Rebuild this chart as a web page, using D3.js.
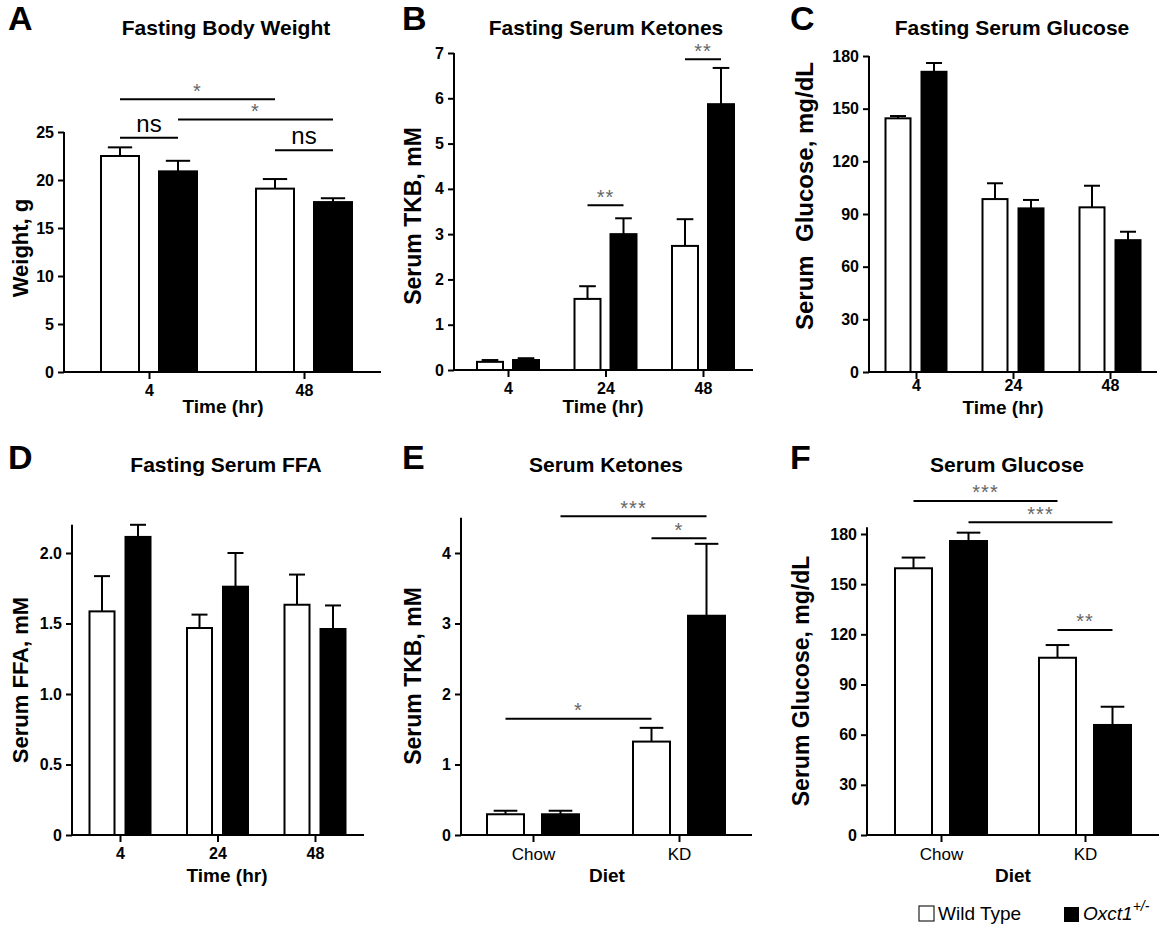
<!DOCTYPE html>
<html lang="en">
<head>
<meta charset="UTF-8">
<title>Oxct1 fasting / ketogenic diet panels</title>
<script src="https://d3js.org/d3.v7.min.js" charset="utf-8"></script>
<style>
  body { margin: 0; background: #fff; }
  text { font-family: "Liberation Sans", Arial, sans-serif; fill: #000; }
  .tick line, .axisline { stroke: #000; stroke-width: 2; }
  .ytick text { font-size: 16px; font-weight: bold; }
  .xtick text { font-size: 16px; font-weight: bold; }
  .xtick.diet text { font-size: 17px; font-weight: normal; }
</style>
</head>
<body>
<div id="chart"></div>
<script>

// ---- data (mean, and SEM shown as upper error bar) ----
var time2 = ["4", "48"];
var time3 = ["4", "24", "48"];
var diets = ["Chow", "KD"];

// A: fasting body weight, g
var weightWT = [22.5, 19.1], weightWTsem = [0.9, 1.0];
var weightKO = [20.9, 17.7], weightKOsem = [1.1, 0.4];

// B: fasting serum ketones, mM
var ketWT = [0.18, 1.57, 2.74], ketWTsem = [0.04, 0.28, 0.59];
var ketKO = [0.22, 3.0, 5.87],  ketKOsem = [0.04, 0.35, 0.80];

// C: fasting serum glucose, mg/dL
var gluWT = [144.5, 98.5, 93.8], gluWTsem = [1.3, 9.0, 12.3];
var gluKO = [171, 93.2, 75.1],   gluKOsem = [5.0, 4.8, 4.8];

// D: fasting serum FFA, mM
var ffaWT = [1.586, 1.468, 1.633], ffaWTsem = [0.25, 0.095, 0.214];
var ffaKO = [2.114, 1.761, 1.461], ffaKOsem = [0.086, 0.239, 0.167];

// E: serum ketones by diet, mM
var dietKetWT = [0.294, 1.325], dietKetWTsem = [0.05, 0.195];
var dietKetKO = [0.294, 3.11],  dietKetKOsem = [0.05, 1.02];

// F: serum glucose by diet, mg/dL
var dietGluWT = [159.5, 106], dietGluWTsem = [6.4, 7.6];
var dietGluKO = [175.8, 65.8], dietGluKOsem = [5.0, 10.9];

// significance brackets: [group, series] -> [group, series], height in data units
var sigA = [
  {from: [0, 0], to: [1, 0], at: 28.4, label: "*"},
  {from: [0, 1], to: [1, 1], at: 26.3, label: "*"},
  {from: [0, 0], to: [0, 1], at: 24.4, label: "ns"},
  {from: [1, 0], to: [1, 1], at: 23.1, label: "ns"}
];
var sigB = [
  {from: [1, 0], to: [1, 1], at: 3.64, label: "**"},
  {from: [2, 0], to: [2, 1], at: 6.86, label: "**"}
];
var sigE = [
  {from: [0, 1], to: [1, 1], at: 4.52, label: "***"},
  {from: [1, 0], to: [1, 1], at: 4.21, label: "*"},
  {from: [0, 0], to: [1, 0], at: 1.65, label: "*"}
];
var sigF = [
  {from: [0, 0], to: [1, 0], at: 199.8, label: "***"},
  {from: [0, 1], to: [1, 1], at: 187, label: "***"},
  {from: [1, 0], to: [1, 1], at: 122.6, label: "**"}
];

var width = 1167, height = 929;

var svg = d3.select("#chart").append("svg")
  .attr("width", width)
  .attr("height", height);

var panels = [
  {letter: "A", title: "Fasting Body Weight", ylab: "Weight, g", xlab: "Time (hr)", cats: time2,
   wt: weightWT, wtSem: weightWTsem, ko: weightKO, koSem: weightKOsem, sig: sigA,
   ticks: [0, 5, 10, 15, 20, 25], tickMax: 25, yTop: 25,
   x0: 64, x1: 381, c0: 149, cN: 304, base: 372, tickMaxY: 132, bw: 38, off: 29, pad: 6,
   lx: 8, ly: 30, tx: 226, ty: 35, ylx: 28, yly: 248, ysz: 22, xlx: 223, xly: 413},
  {letter: "B", title: "Fasting Serum Ketones", ylab: "Serum TKB, mM", xlab: "Time (hr)", cats: time3,
   wt: ketWT, wtSem: ketWTsem, ko: ketKO, koSem: ketKOsem, sig: sigB,
   ticks: d3.range(0, 8), tickMax: 7, yTop: 7,
   x0: 454, x1: 753, c0: 508, cN: 703, base: 370, tickMaxY: 53, bw: 26, off: 18, pad: 6,
   lx: 402, ly: 30, tx: 606, ty: 35, ylx: 421, yly: 216, ysz: 23, xlx: 603, xly: 413},
  {letter: "C", title: "Fasting Serum Glucose", ylab: "Serum  Glucose, mg/dL", xlab: "Time (hr)", cats: time3,
   wt: gluWT, wtSem: gluWTsem, ko: gluKO, koSem: gluKOsem, sig: [],
   ticks: d3.range(0, 181, 30), tickMax: 180, yTop: 180,
   x0: 869, x1: 1157, c0: 916, cN: 1110, base: 372, tickMaxY: 56, bw: 25, off: 18, pad: 1,
   lx: 790, ly: 30, tx: 1012, ty: 35, ylx: 813, yly: 196, ysz: 24, xlx: 1003, xly: 414},
  {letter: "D", title: "Fasting Serum FFA", ylab: "Serum FFA, mM", xlab: "Time (hr)", cats: time3,
   wt: ffaWT, wtSem: ffaWTsem, ko: ffaKO, koSem: ffaKOsem, sig: [],
   ticks: [0, 0.5, 1, 1.5, 2], tickMax: 2, yTop: 2.2, fmt: function(d) { return d === 0 ? "0" : d3.format(".1f")(d); },
   x0: 72, x1: 364, c0: 120, cN: 315, base: 835, tickMaxY: 553, bw: 25, off: 18, pad: 6,
   lx: 8, ly: 469, tx: 226, ty: 472, ylx: 28, yly: 680, ysz: 22, xlx: 227, xly: 882},
  {letter: "E", title: "Serum Ketones", ylab: "Serum TKB, mM", xlab: "Diet", cats: diets, diet: true,
   wt: dietKetWT, wtSem: dietKetWTsem, ko: dietKetKO, koSem: dietKetKOsem, sig: sigE,
   ticks: d3.range(0, 5), tickMax: 4, yTop: 4.5,
   x0: 461, x1: 752, c0: 533, cN: 679, base: 835, tickMaxY: 553, bw: 37, off: 27.5, pad: 6,
   lx: 402, ly: 469, tx: 606, ty: 472, ylx: 421, yly: 676, ysz: 23, xlx: 607, xly: 882},
  {letter: "F", title: "Serum Glucose", ylab: "Serum Glucose, mg/dL", xlab: "Diet", cats: diets, diet: true,
   wt: dietGluWT, wtSem: dietGluWTsem, ko: dietGluKO, koSem: dietGluKOsem, sig: sigF,
   ticks: d3.range(0, 181, 30), tickMax: 180, yTop: 184,
   x0: 867, x1: 1159, c0: 941, cN: 1085, base: 835, tickMaxY: 534, bw: 37, off: 27.5, pad: 6,
   lx: 790, ly: 469, tx: 1007, ty: 472, ylx: 809, yly: 681, ysz: 23, xlx: 1013, xly: 882}
];

panels.forEach(drawPanel);

function drawPanel(p) {
  var g = svg.append("g");

  var x = d3.scalePoint().domain(p.cats).range([p.c0, p.cN]);
  var y = d3.scaleLinear().domain([0, p.tickMax]).range([p.base, p.tickMaxY]);

  // bar centre for [group index, series index]
  var cx = function(gi, si) { return x(p.cats[gi]) + (si === 0 ? -p.off : p.off); };

  var rows = [];
  p.cats.forEach(function(c, i) {
    rows.push({g: i, s: 0, v: p.wt[i], e: p.wtSem[i]});
    rows.push({g: i, s: 1, v: p.ko[i], e: p.koSem[i]});
  });

  // error bars (upper only)
  g.selectAll(".err").data(rows).join("line")
    .attr("x1", d => cx(d.g, d.s)).attr("x2", d => cx(d.g, d.s))
    .attr("y1", d => y(d.v)).attr("y2", d => y(d.v + d.e))
    .attr("stroke", "#000").attr("stroke-width", 2);
  g.selectAll(".cap").data(rows).join("line")
    .attr("x1", d => cx(d.g, d.s) - p.bw * 0.32).attr("x2", d => cx(d.g, d.s) + p.bw * 0.32)
    .attr("y1", d => y(d.v + d.e)).attr("y2", d => y(d.v + d.e))
    .attr("stroke", "#000").attr("stroke-width", 2);

  // bars
  g.selectAll(".bar").data(rows).join("rect")
    .attr("x", d => cx(d.g, d.s) - p.bw / 2)
    .attr("y", d => y(d.v))
    .attr("width", p.bw)
    .attr("height", d => y(0) - y(d.v))
    .attr("fill", d => d.s === 0 ? "#fff" : "#000")
    .attr("stroke", "#000").attr("stroke-width", 2);

  // y axis
  var yAxis = g.append("g").attr("class", "ytick")
    .attr("transform", "translate(" + p.x0 + ",0)")
    .call(d3.axisLeft(y).tickValues(p.ticks).tickSize(6).tickPadding(4)
      .tickFormat(p.fmt || d3.format("d")));
  yAxis.select(".domain").remove();
  g.append("line").attr("class", "axisline")
    .attr("x1", p.x0).attr("x2", p.x0)
    .attr("y1", y(0) + 1).attr("y2", y(p.yTop));

  // x axis
  var xAxis = g.append("g").attr("class", "xtick" + (p.diet ? " diet" : ""))
    .attr("transform", "translate(0," + p.base + ")")
    .call(d3.axisBottom(x).tickSize(7).tickPadding(p.pad));
  xAxis.select(".domain").remove();
  g.append("line").attr("class", "axisline")
    .attr("x1", p.x0 - 1).attr("x2", p.x1)
    .attr("y1", y(0)).attr("y2", y(0));

  // significance brackets
  p.sig.forEach(function(s) {
    var xa = cx(s.from[0], s.from[1]), xb = cx(s.to[0], s.to[1]);
    g.append("line")
      .attr("x1", xa).attr("x2", xb)
      .attr("y1", y(s.at)).attr("y2", y(s.at))
      .attr("stroke", "#000").attr("stroke-width", 2);
    var ns = s.label === "ns";
    g.append("text")
      .attr("x", (xa + xb) / 2)
      .attr("y", y(s.at) - (ns ? 6 : 1.5))
      .attr("text-anchor", "middle")
      .style("font-size", ns ? "24px" : "20px")
      .style("fill", ns ? "#000" : "#666")
      .style("letter-spacing", ns ? "0px" : "1px")
      .text(s.label);
  });

  // panel letter, title, axis titles
  g.append("text").attr("x", p.lx).attr("y", p.ly)
    .style("font-size", "34px").style("font-weight", "bold").text(p.letter);
  g.append("text").attr("x", p.tx).attr("y", p.ty).attr("text-anchor", "middle")
    .style("font-size", "21px").style("font-weight", "bold").text(p.title);
  g.append("text").attr("x", p.xlx).attr("y", p.xly).attr("text-anchor", "middle")
    .style("font-size", "19px").style("font-weight", "bold").text(p.xlab);
  g.append("text")
    .attr("transform", "translate(" + p.ylx + "," + p.yly + ") rotate(-90)")
    .attr("text-anchor", "middle")
    .style("font-size", p.ysz + "px").style("font-weight", "bold")
    .style("white-space", "pre")
    .text(p.ylab);
}

// legend
var legend = svg.append("g");
legend.append("rect").attr("x", 919).attr("y", 906).attr("width", 15).attr("height", 15)
  .attr("fill", "#fff").attr("stroke", "#222").attr("stroke-width", 1.2);
legend.append("text").attr("x", 938).attr("y", 920)
  .style("font-size", "19px").text("Wild Type");
legend.append("rect").attr("x", 1064).attr("y", 907).attr("width", 15).attr("height", 15)
  .attr("fill", "#000");
var ko = legend.append("text").attr("x", 1083).attr("y", 920)
  .style("font-size", "19px").style("font-style", "italic");
ko.append("tspan").text("Oxct1");
ko.append("tspan").attr("dy", -9).style("font-size", "14px").text("+/-");

</script>
</body>
</html>
